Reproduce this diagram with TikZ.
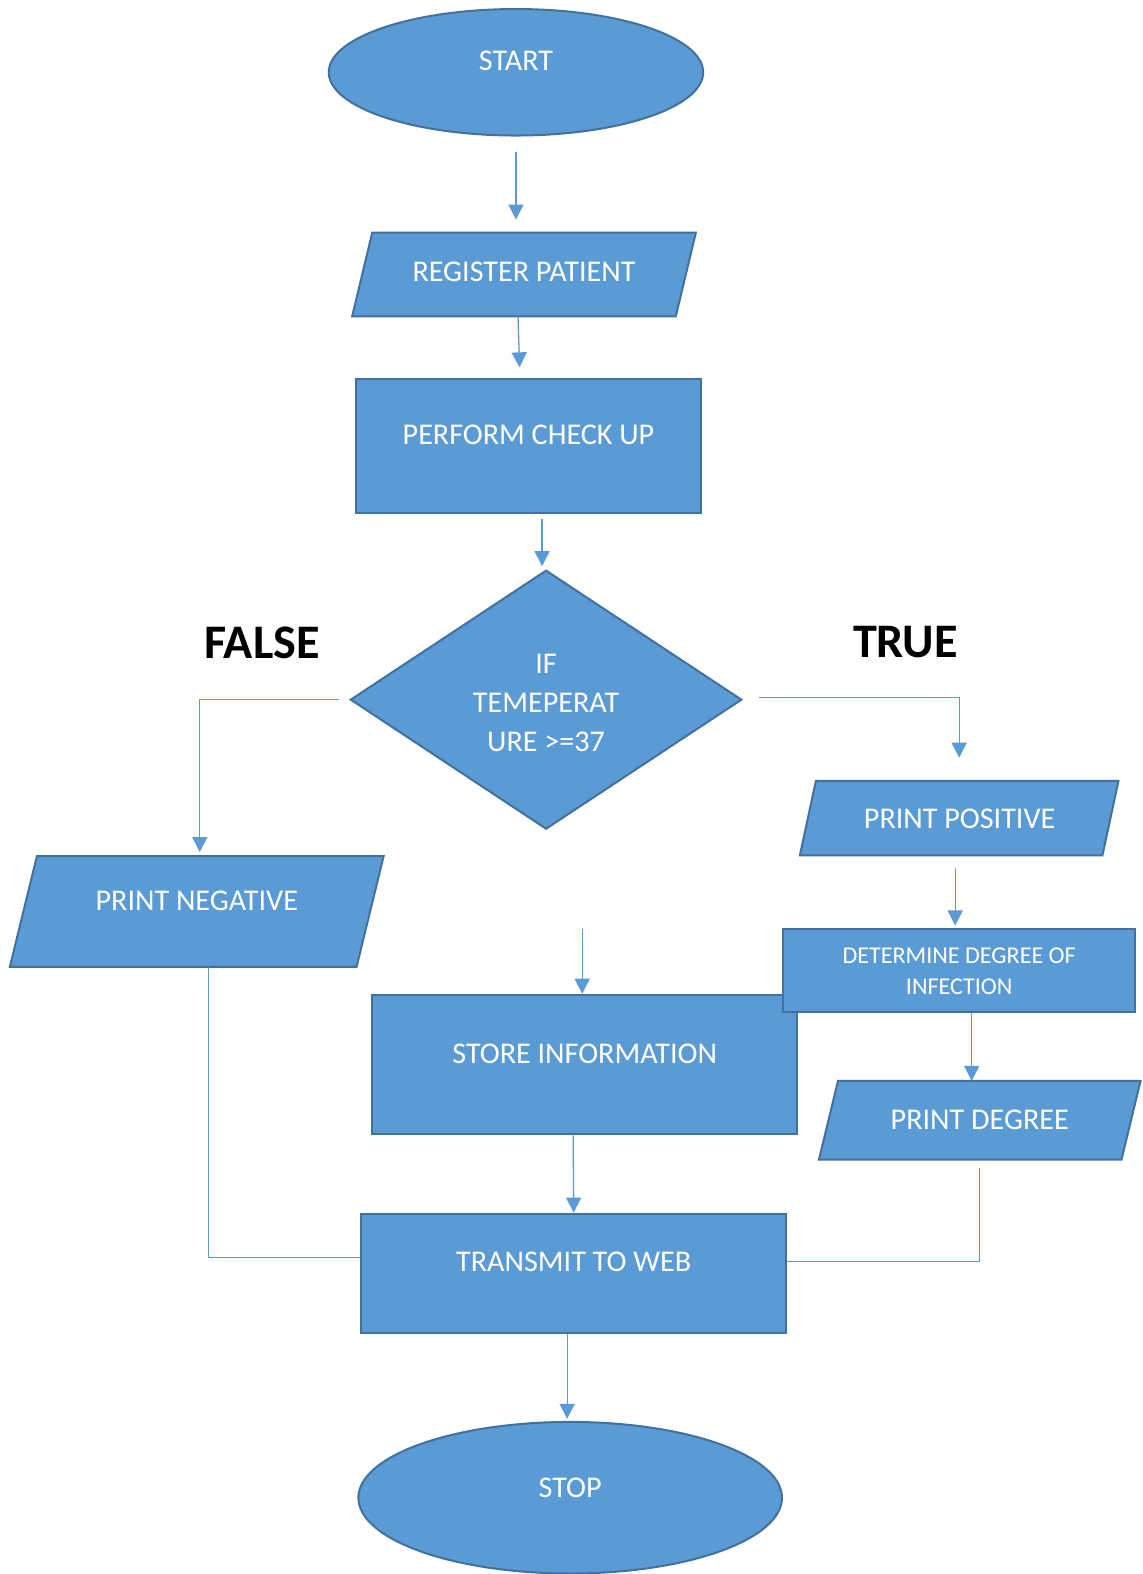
\documentclass[tikz,border=0pt]{standalone}
\usepackage{fontspec}
\setmainfont{Carlito}
\usetikzlibrary{shapes.geometric,arrows.meta,calc}
\definecolor{boxfill}{HTML}{5B9BD5}
\definecolor{boxline}{HTML}{41719C}
\definecolor{conn}{HTML}{5B9BD5}
\tikzset{
  shapebox/.style={fill=boxfill, draw=boxline, line width=2pt, inner sep=0pt},
  rectbox/.style={shapebox, rectangle},
  ellbox/.style={shapebox, ellipse},
  invbox/.style={rectangle, inner sep=0pt},
  diabox/.style={shapebox, diamond},
  txt/.style={text=white, font=\fontsize{30}{39}\selectfont, align=center, inner sep=0pt},
  smalltxt/.style={text=white, font=\fontsize{24}{31}\selectfont, align=center, inner sep=0pt},
  bigtxt/.style={text=black, font=\fontsize{48}{52}\selectfont\bfseries, inner sep=0pt},
  arr/.style={draw=conn, line width=1.3pt, -{Triangle[width=15pt,length=15pt]}},
  plain/.style={draw=conn, line width=1.3pt},
}
% parallelogram drawn on an invisible named rectangle: #1 node name, #2 slant
\newcommand{\drawpara}[2]{%
  \draw[shapebox] ([xshift=#2]#1.north west) -- (#1.north east) -- ([xshift=-#2]#1.south east) -- (#1.south west) -- cycle;}
\begin{document}
\begin{tikzpicture}[x=1pt,y=-1pt]
\useasboundingbox (0,0) rectangle (1138,1568);
% shapes
\node[ellbox, minimum width=373pt, minimum height=126pt] (start) at (514,72) {};
\node[txt] (starttxt) at (514,61) {START};
\node[invbox, minimum width=342pt, minimum height=83pt] (reg) at (522,273.5) {};
\drawpara{reg}{20pt}
\node[txt] (regtxt) at (522,271) {REGISTER PATIENT};
\node[rectbox, minimum width=343pt, minimum height=133pt] (check) at (526.5,444.5) {};
\node[txt] (checktxt) at (526.5,433) {PERFORM CHECK UP};
\node[diabox, minimum width=390pt, minimum height=258pt] (dec) at (544,697) {};
\node[txt] (dectxt) at (544,700) {IF\\TEMEPERAT\\URE >=37};
\node[bigtxt] (false) at (261,640) {FALSE};
\node[bigtxt] (true) at (902,640) {TRUE};
\node[invbox, minimum width=372pt, minimum height=110pt] (neg) at (196,908) {};
\drawpara{neg}{27pt}
\node[txt] (negtxt) at (196,897) {PRINT NEGATIVE};
\node[invbox, minimum width=317pt, minimum height=74pt] (pos) at (955.5,815) {};
\drawpara{pos}{16pt}
\node[txt] (postxt) at (956,816) {PRINT POSITIVE};
\node[rectbox, minimum width=423pt, minimum height=139pt] (store) at (582.5,1060.5) {};
\node[txt] (storetxt) at (582.5,1050) {STORE INFORMATION};
\node[rectbox, minimum width=351pt, minimum height=83pt] (det) at (955.5,966.5) {};
\node[smalltxt] (dettxt) at (955.5,967.5) {DETERMINE DEGREE OF\\INFECTION};
\node[invbox, minimum width=320pt, minimum height=78pt] (deg) at (976,1116) {};
\drawpara{deg}{19pt}
\node[txt] (degtxt) at (976,1116) {PRINT DEGREE};
\node[rectbox, minimum width=423pt, minimum height=119pt] (trans) at (571.5,1268.5) {};
\node[txt] (transtxt) at (571.5,1257) {TRANSMIT TO WEB};
\node[ellbox, minimum width=422pt, minimum height=151pt] (stop) at (568,1492) {};
\node[txt] (stoptxt) at (568,1482) {STOP};
\coordinate (free) at (580,925);
% connectors
\draw[arr, shorten <=15pt, shorten >=13pt] (start.south) -- (start.south |- reg.north);
\draw[arr, shorten >=11pt] ([xshift=-6pt]reg.south) -- ([xshift=-8.5pt]check.north);
\draw[arr, shorten <=5pt, shorten >=3pt] ([xshift=13.5pt]check.south) -- ([xshift=13.5pt]check.south |- dec.north);
\draw[arr, shorten <=10pt, shorten >=4pt] (dec.west) -| ([xshift=3pt]neg.north);
\draw[arr, shorten <=16pt, shorten >=23pt] ([yshift=2pt]dec.east) -| (pos.north);
\draw[arr, shorten <=12pt, shorten >=2pt] ([xshift=-4pt]pos.south) -- ([xshift=-4pt]pos.south |- det.north);
\draw[arr] (free) -- (free |- store.north);
\draw[arr] ([xshift=12.5pt]det.south) -- ([xshift=12.5pt]det.south |- deg.north);
\draw[arr] ([xshift=-11.5pt]store.south) -- (trans.north);
\draw[plain] ([xshift=12pt]neg.south) |- ([yshift=16pt]trans.west);
\draw[plain, shorten <=8pt] (deg.south) |- ([yshift=12pt]trans.east);
\draw[arr, shorten >=2pt] ([xshift=-6.5pt]trans.south) -- ([xshift=-6.5pt]trans.south |- stop.north);
\end{tikzpicture}
\end{document}
